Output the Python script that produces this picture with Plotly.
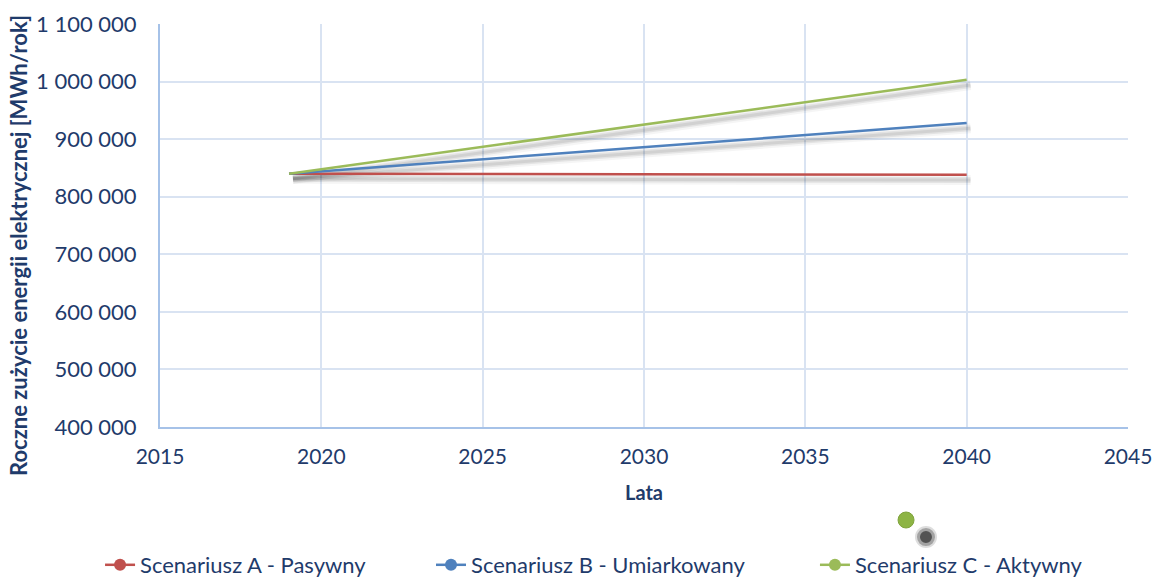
import plotly.graph_objects as go

# lata i roczne zużycie energii [MWh/rok]
lata = [2019, 2025, 2030, 2035, 2040]
scen_a = [840000, 839500, 839000, 838500, 838000]
scen_b = [840000, 865000, 886000, 907000, 928000]
scen_c = [840000, 886500, 925500, 964000, 1003000]

nazwy = ["Scenariusz A - Pasywny", "Scenariusz B - Umiarkowany", "Scenariusz C - Aktywny"]
kolory = ["#C0504D", "#4F81BD", "#9BBB59"]
serie = [scen_a, scen_b, scen_c]

granat = "#1F3B6B"
czcionka = "Lato, Carlito, Calibri, sans-serif"

fig = go.Figure()

# cień pod liniami (jak w Excelu)
for s in serie:
    for w, a in [(10, 0.04), (6, 0.07), (3, 0.08)]:
        fig.add_trace(go.Scatter(x=[v + 0.12 for v in lata], y=[v - 9000 for v in s], mode="lines",
                                 line=dict(color=f"rgba(0,0,0,{a})", width=w),
                                 showlegend=False, hoverinfo="skip"))

for nazwa, kolor, s in zip(nazwy, kolory, serie):
    fig.add_trace(go.Scatter(x=lata, y=s, mode="lines", name=nazwa,
                             line=dict(color=kolor, width=2.5), showlegend=False))

# wpisy legendy z kółkiem
pozycje = [0.0867, 0.3735, 0.7062]
for i, (nazwa, kolor) in enumerate(zip(nazwy, kolory)):
    fig.add_trace(go.Scatter(x=[None], y=[None], mode="lines+markers", name=nazwa,
                             line=dict(color=kolor, width=2.5),
                             marker=dict(color=kolor, size=12),
                             legend="legend" if i == 0 else f"legend{i + 1}"))

leg = dict(orientation="h", xref="container", yref="container", yanchor="middle", y=0.0208,
           xanchor="left", font=dict(family=czcionka, size=22, color=granat),
           bgcolor="rgba(0,0,0,0)")

fig.update_layout(
    width=1154, height=577,
    margin=dict(l=160, r=26, t=24, b=150, autoexpand=False),
    plot_bgcolor="white", paper_bgcolor="white",
    separators=", ",
    font=dict(family=czcionka, color=granat),
    legend=dict(leg, x=pozycje[0]),
    legend2=dict(leg, x=pozycje[1]),
    legend3=dict(leg, x=pozycje[2]),
)

fig.update_xaxes(range=[2015, 2045], dtick=5, tick0=2015, showgrid=True, automargin=False,
                 gridcolor="#D9E3F2", gridwidth=1.5, showline=True, linecolor="#A6C2E8", linewidth=2,
                 zeroline=False, ticks="", ticklabelstandoff=10,
                 tickfont=dict(size=21, color=granat),
                 title=dict(text="<b>Lata</b>", font=dict(size=20, color=granat), standoff=19))
fig.update_yaxes(range=[400000, 1100000], dtick=100000, tickformat=",d", showgrid=True, automargin=False,
                 gridcolor="#D9E3F2", gridwidth=1.5, showline=True, linecolor="#A6C2E8", linewidth=2,
                 zeroline=False, ticks="", ticklabelstandoff=17,
                 tickfont=dict(size=22, color=granat))

# tytuł osi Y jako adnotacja (w oryginale nie jest wyśrodkowany na osi)
fig.add_annotation(text="<b>Roczne zużycie energii elektrycznej [MWh/rok]</b>", textangle=-90,
                   xref="paper", yref="paper", x=-0.1467, y=0.4516, showarrow=False,
                   xanchor="center", yanchor="middle", font=dict(size=22, color=granat))

# zabłąkany znacznik z oryginału
for r, a in [(11, 0.15), (9, 0.3), (6, 0.6)]:
    fig.add_shape(type="circle", xref="paper", yref="paper", xsizemode="pixel", ysizemode="pixel",
                  xanchor=0.7913, yanchor=-0.273, x0=-r, x1=r, y0=-r, y1=r,
                  fillcolor=f"rgba(30,30,30,{a})", line=dict(width=0))
fig.add_shape(type="circle", xref="paper", yref="paper", xsizemode="pixel", ysizemode="pixel",
              xanchor=0.7707, yanchor=-0.2308, x0=-8, x1=8, y0=-8, y1=8,
              fillcolor="#8DB444", line=dict(color="#7FA33C", width=1))

# bez domyślnego marginesu strony, żeby wykres zajął całe okno
fig.write_html("out.html", config={"displayModeBar": False},
               post_script="document.body.style.margin='0';")
